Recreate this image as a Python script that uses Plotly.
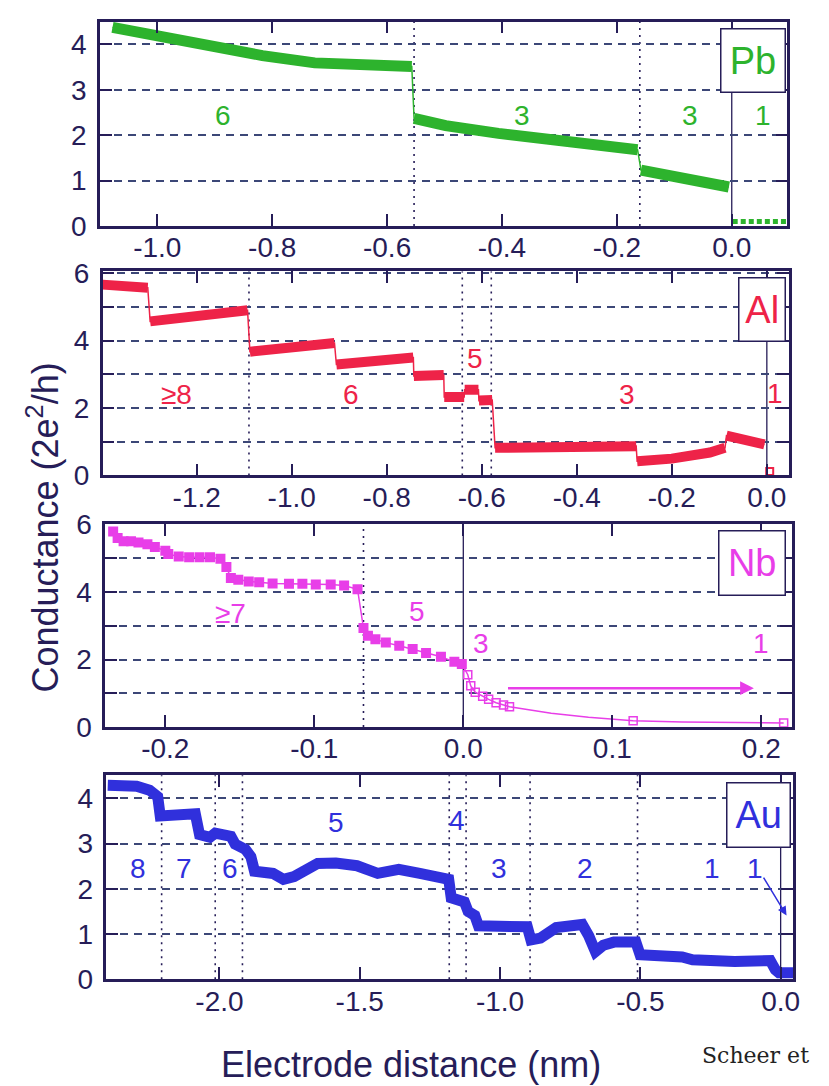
import plotly.graph_objects as go

# ---------------- data ----------------
# Pb (None separates plateaus; thin line joins them)
pb_x = [-1.078, -1.0, -0.909, -0.817, -0.726, -0.635, -0.557, None,
        -0.553, -0.498, -0.406, -0.315, -0.224, -0.164, None,
        -0.158, -0.087, -0.005]
pb_y = [4.37, 4.18, 3.96, 3.75, 3.59, 3.54, 3.51, None,
        2.37, 2.21, 2.04, 1.89, 1.79, 1.68, None,
        1.23, 1.07, 0.86]
pb_tail_x = [0.006, 0.020, 0.034, 0.048, 0.062, 0.076, 0.090]
pb_tail_y = [0.10, 0.10, 0.10, 0.10, 0.10, 0.10, 0.10]
pb_vlines = [-0.553, -0.160]
pb_labels = [("6", -0.886, 2.43), ("3", -0.365, 2.43), ("3", -0.073, 2.43), ("1", 0.055, 2.43)]

# Al
al_x = [-1.398, -1.303, None,
        -1.298, -1.2, -1.093, None,
        -1.088, -1.0, -0.91, None,
        -0.906, -0.82, -0.744, None,
        -0.743, -0.680, None,
        -0.679, -0.637, None,
        -0.636, -0.607, None,
        -0.606, -0.578, None,
        -0.572, -0.45, -0.38, -0.35, -0.275, None,
        -0.273, -0.2, -0.12, -0.088, None,
        -0.085, -0.06, -0.03, -0.005]
al_y = [5.66, 5.57, None,
        4.57, 4.74, 4.90, None,
        3.67, 3.80, 3.93, None,
        3.29, 3.40, 3.50, None,
        2.95, 2.98, None,
        2.33, 2.33, None,
        2.54, 2.54, None,
        2.22, 2.24, None,
        0.82, 0.82, 0.81, 0.84, 0.87, None,
        0.42, 0.50, 0.68, 0.82, None,
        1.18, 1.08, 1.00, 0.92]
al_tail_x = [0.006]
al_tail_y = [0.12]
al_vlines = [-1.090, -0.641, -0.580]
al_labels = [("≥8", -1.243, 2.39), ("6", -0.875, 2.39), ("5", -0.614, 3.47),
             ("3", -0.294, 2.39), ("1", 0.018, 2.43)]

# Nb
nb_fill_x = [-0.235, -0.232, -0.228, -0.223, -0.218, -0.212, -0.207, -0.200, -0.198,
             -0.191, -0.184, -0.177, -0.170, -0.163, -0.159, -0.156, -0.151, -0.144,
             -0.137, -0.128, -0.117, -0.108, -0.099, -0.089, -0.080, -0.071,
             -0.067, -0.064, -0.059, -0.052, -0.043, -0.034, -0.025, -0.015, -0.006, -0.001]
nb_fill_y = [5.79, 5.60, 5.50, 5.50, 5.46, 5.41, 5.33, 5.22, 5.12,
             5.05, 5.03, 5.03, 5.03, 4.98, 4.74, 4.41, 4.36, 4.31,
             4.29, 4.25, 4.24, 4.24, 4.22, 4.22, 4.19, 4.08,
             2.93, 2.70, 2.60, 2.50, 2.41, 2.31, 2.19, 2.08, 1.93, 1.87]
nb_open_x = [0.003, 0.005, 0.008, 0.013, 0.017, 0.022, 0.027, 0.031, 0.114, 0.215]
nb_open_y = [1.55, 1.22, 1.03, 0.91, 0.82, 0.72, 0.65, 0.60, 0.19, 0.12]
nb_curve_x = [0.059, 0.084, 0.147]
nb_curve_y = [0.41, 0.29, 0.15]
nb_vlines = [-0.067]
nb_arrow = (0.029, 0.195, 1.15)
nb_labels = [("≥7", -0.156, 3.36), ("5", -0.031, 3.41), ("3", 0.012, 2.48), ("1", 0.200, 2.48)]

# Au
au_x = [-2.398, -2.295, -2.249, -2.220, -2.211, -2.146, -2.086, -2.071, -2.034, -2.015,
        -1.959, -1.944, -1.907, -1.888, -1.875, -1.809, -1.772, -1.734, -1.697, -1.650,
        -1.585, -1.510, -1.436, -1.361, -1.286, -1.183, -1.174, -1.127, -1.114, -1.090,
        -1.077, -0.903, -0.890, -0.856, -0.800, -0.707, -0.684, -0.660, -0.632, -0.594,
        -0.516, -0.501, -0.351, -0.314, -0.164, -0.037, -0.019, -0.006, 0.045]
au_y = [4.29, 4.27, 4.18, 4.04, 3.61, 3.63, 3.66, 3.20, 3.14, 3.23,
        3.16, 2.99, 2.87, 2.71, 2.39, 2.34, 2.21, 2.27, 2.39, 2.56,
        2.57, 2.51, 2.34, 2.43, 2.34, 2.21, 1.80, 1.71, 1.50, 1.41,
        1.18, 1.16, 0.87, 0.91, 1.14, 1.21, 0.96, 0.61, 0.75, 0.82,
        0.82, 0.54, 0.49, 0.43, 0.39, 0.41, 0.21, 0.14, 0.14]
au_vlines = [-2.206, -2.015, -1.918, -1.181, -1.121, -0.893, -0.510]
au_arrow = (-0.064, 2.28, 0.021, 1.41)
au_labels = [("8", -2.29, 2.44), ("7", -2.127, 2.44), ("6", -1.963, 2.44), ("5", -1.585, 3.46),
             ("4", -1.155, 3.50), ("3", -1.002, 2.44), ("2", -0.697, 2.44),
             ("1", -0.243, 2.44), ("1", -0.093, 2.44)]

# tick labels
pb_xt = [-1.0, -0.8, -0.6, -0.4, -0.2, 0.0]
pb_xl = ["-1.0", "-0.8", "-0.6", "-0.4", "-0.2", "0.0"]
al_xt = [-1.2, -1.0, -0.8, -0.6, -0.4, -0.2, 0.0]
al_xl = ["-1.2", "-1.0", "-0.8", "-0.6", "-0.4", "-0.2", "0.0"]
nb_xt = [-0.2, -0.1, 0.0, 0.1, 0.2]
nb_xl = ["-0.2", "-0.1", "0.0", "0.1", "0.2"]
au_xt = [-2.0, -1.5, -1.0, -0.5, 0.0]
au_xl = ["-2.0", "-1.5", "-1.0", "-0.5", "0.0"]
y45_t = [0, 1, 2, 3, 4]
y45_l = ["0", "1", "2", "3", "4"]
y6_t = [0, 1, 2, 3, 4, 5, 6]
y6_l = ["0", "", "2", "", "4", "", "6"]

# ---------------- style ----------------
W, H = 829, 1086
FONT = "Liberation Sans, Arial, sans-serif"
NAVY = "#261d58"
GRID = "#3c4777"
GREEN = "#2db32d"
RED = "#ee2348"
MAG = "#e83ee8"
BLUE = "#3030dc"


def px(x):
    return x / W


def py(y):
    return 1 - y / H


panels = [
    dict(name="Pb", color=GREEN, xr=[-1.1, 0.0967], yr=[0, 4.5],
         xd=[px(100.7), px(794)], yd=[py(217.3), py(6.7)],
         xt=pb_xt, xl=pb_xl, yt=y45_t, yl=y45_l,
         box=(726.7, 791.7, 15, 79.3)),
    dict(name="Al", color=RED, xr=[-1.398, 0.0466], yr=[0, 6.05],
         xd=[px(103.5), px(795.7)], yd=[py(474), py(264)],
         xt=al_xt, xl=al_xl, yt=y6_t, yl=y6_l,
         box=(744.3, 791.7, 270.7, 335)),
    dict(name="Nb", color=MAG, xr=[-0.2404, 0.2203], yr=[0, 6.01],
         xd=[px(106), px(798.3)], yd=[py(733), py(524)],
         xt=nb_xt, xl=nb_xl, yt=y6_t, yl=y6_l,
         box=(724.3, 791.7, 531.7, 596.7)),
    dict(name="Au", color=BLUE, xr=[-2.4025, 0.0449], yr=[0, 4.51],
         xd=[px(107.4), px(800)], yd=[py(992.5), py(782.7)],
         xt=au_xt, xl=au_xl, yt=y45_t, yl=y45_l,
         box=(732.3, 796.7, 790.7, 855.7)),
]

fig = go.Figure()
layout = dict(width=W, height=H, margin=dict(l=0, r=0, t=0, b=0), autosize=False,
              paper_bgcolor="white", plot_bgcolor="white", showlegend=False,
              font=dict(family=FONT, color=NAVY))
shapes = []
annotations = []

for i, p in enumerate(panels):
    n = "" if i == 0 else str(i + 1)
    xa, ya = "x" + n, "y" + n
    layout["xaxis" + n] = dict(
        domain=p["xd"], range=p["xr"], anchor=ya, tickmode="array",
        tickvals=p["xt"], ticktext=p["xl"], ticks="inside", ticklen=12, tickwidth=2,
        tickcolor=NAVY, showline=True, linecolor=NAVY, linewidth=2.5, mirror="allticks",
        showgrid=False, zeroline=False, ticklabelstandoff=-5,
        tickfont=dict(size=28, color=NAVY, family=FONT))
    layout["yaxis" + n] = dict(
        domain=p["yd"], range=p["yr"], anchor=xa, tickmode="array",
        tickvals=p["yt"], ticktext=p["yl"], ticks="inside", ticklen=12, tickwidth=2,
        tickcolor=NAVY, showline=True, linecolor=NAVY, linewidth=2.5, mirror="allticks",
        showgrid=True, gridcolor=GRID, griddash="8px,6px", gridwidth=1.5, zeroline=False,
        ticklabelstandoff=5, tickfont=dict(size=28, color=NAVY, family=FONT))

    # solid vertical line at 0
    shapes.append(dict(type="line", xref=xa, yref=ya + " domain", x0=0, x1=0, y0=0, y1=1,
                       line=dict(color=NAVY, width=1.3), layer="below"))
    # box label
    x0, x1, y0, y1 = p["box"]
    annotations.append(dict(xref="paper", yref="paper", x=px((x0 + x1) / 2), y=py((y0 + y1) / 2),
                            xanchor="center", yanchor="middle", text=p["name"], showarrow=False,
                            font=dict(size=38, color=p["color"], family=FONT),
                            bgcolor="white", bordercolor=NAVY, borderwidth=1.5, borderpad=0,
                            width=x1 - x0 - 2, height=y1 - y0 - 2))

vl = [pb_vlines, al_vlines, nb_vlines, au_vlines]
lbls = [pb_labels, al_labels, nb_labels, au_labels]
for i, p in enumerate(panels):
    n = "" if i == 0 else str(i + 1)
    xa, ya = "x" + n, "y" + n
    for v in vl[i]:
        shapes.append(dict(type="line", xref=xa, yref=ya + " domain", x0=v, x1=v, y0=0, y1=1,
                           line=dict(color=NAVY, width=1.6, dash="2px,5px"), layer="below"))
    for t, lx, ly in lbls[i]:
        annotations.append(dict(xref=xa, yref=ya, x=lx, y=ly, text=t, showarrow=False,
                                xanchor="center", yanchor="middle",
                                font=dict(size=28, color=p["color"], family=FONT)))

# ---- Pb traces
fig.add_trace(go.Scatter(x=pb_x, y=pb_y, mode="lines", connectgaps=True, xaxis="x", yaxis="y",
                         line=dict(color=GREEN, width=1.5), hoverinfo="skip"))
fig.add_trace(go.Scatter(x=pb_x, y=pb_y, mode="lines", connectgaps=False, xaxis="x", yaxis="y",
                         line=dict(color=GREEN, width=11), hoverinfo="skip"))
fig.add_trace(go.Scatter(x=pb_tail_x, y=pb_tail_y, mode="markers", xaxis="x", yaxis="y",
                         marker=dict(symbol="square", size=5, color=GREEN), hoverinfo="skip"))

# ---- Al traces
fig.add_trace(go.Scatter(x=al_x, y=al_y, mode="lines", connectgaps=True, xaxis="x2", yaxis="y2",
                         line=dict(color=RED, width=1.5), hoverinfo="skip"))
fig.add_trace(go.Scatter(x=al_x, y=al_y, mode="lines", connectgaps=False, xaxis="x2", yaxis="y2",
                         line=dict(color=RED, width=10), hoverinfo="skip"))
fig.add_trace(go.Scatter(x=al_tail_x, y=al_tail_y, mode="markers", xaxis="x2", yaxis="y2",
                         marker=dict(symbol="square-open", size=7, color=RED, line=dict(width=2)),
                         hoverinfo="skip"))

# ---- Nb traces
pts = sorted(list(zip(nb_fill_x, nb_fill_y)) + list(zip(nb_open_x, nb_open_y))
             + list(zip(nb_curve_x, nb_curve_y)))
fig.add_trace(go.Scatter(x=[q[0] for q in pts], y=[q[1] for q in pts], mode="lines",
                         xaxis="x3", yaxis="y3", line=dict(color=MAG, width=1.5), hoverinfo="skip"))
fig.add_trace(go.Scatter(x=nb_fill_x, y=nb_fill_y, mode="markers", xaxis="x3", yaxis="y3",
                         marker=dict(symbol="square", size=10, color=MAG), hoverinfo="skip"))
fig.add_trace(go.Scatter(x=nb_open_x, y=nb_open_y, mode="markers", xaxis="x3", yaxis="y3",
                         marker=dict(symbol="square-open", size=8, color=MAG, line=dict(width=1.5)),
                         hoverinfo="skip"))
annotations.append(dict(xref="x3", yref="y3", axref="x3", ayref="y3",
                        x=nb_arrow[1], y=nb_arrow[2], ax=nb_arrow[0], ay=nb_arrow[2],
                        showarrow=True, arrowhead=2, arrowsize=1.1, arrowwidth=2.5,
                        arrowcolor=MAG, text=""))

# ---- Au traces
fig.add_trace(go.Scatter(x=au_x, y=au_y, mode="lines", xaxis="x4", yaxis="y4",
                         line=dict(color=BLUE, width=11), hoverinfo="skip"))
annotations.append(dict(xref="x4", yref="y4", axref="x4", ayref="y4",
                        x=au_arrow[2], y=au_arrow[3], ax=au_arrow[0], ay=au_arrow[1],
                        showarrow=True, arrowhead=2, arrowsize=1.2, arrowwidth=1.5,
                        arrowcolor=BLUE, text=""))

# ---- titles
annotations.append(dict(xref="paper", yref="paper", x=px(414), y=py(1080), text="Electrode distance (nm)",
                        showarrow=False, xanchor="center", yanchor="middle",
                        font=dict(size=36, color=NAVY, family=FONT)))
annotations.append(dict(xref="paper", yref="paper", x=px(43), y=py(528),
                        text="Conductance (2e<sup>2</sup>/h)", textangle=-90,
                        showarrow=False, xanchor="center", yanchor="middle",
                        font=dict(size=36, color=NAVY, family=FONT)))
annotations.append(dict(xref="paper", yref="paper", x=px(706), y=py(1086), text="Scheer et",
                        showarrow=False, xanchor="left", yanchor="bottom",
                        font=dict(size=22, color="#222222", family="DejaVu Serif")))

layout["shapes"] = shapes
layout["annotations"] = annotations
fig.update_layout(**layout)
fig.write_html("out.html")
